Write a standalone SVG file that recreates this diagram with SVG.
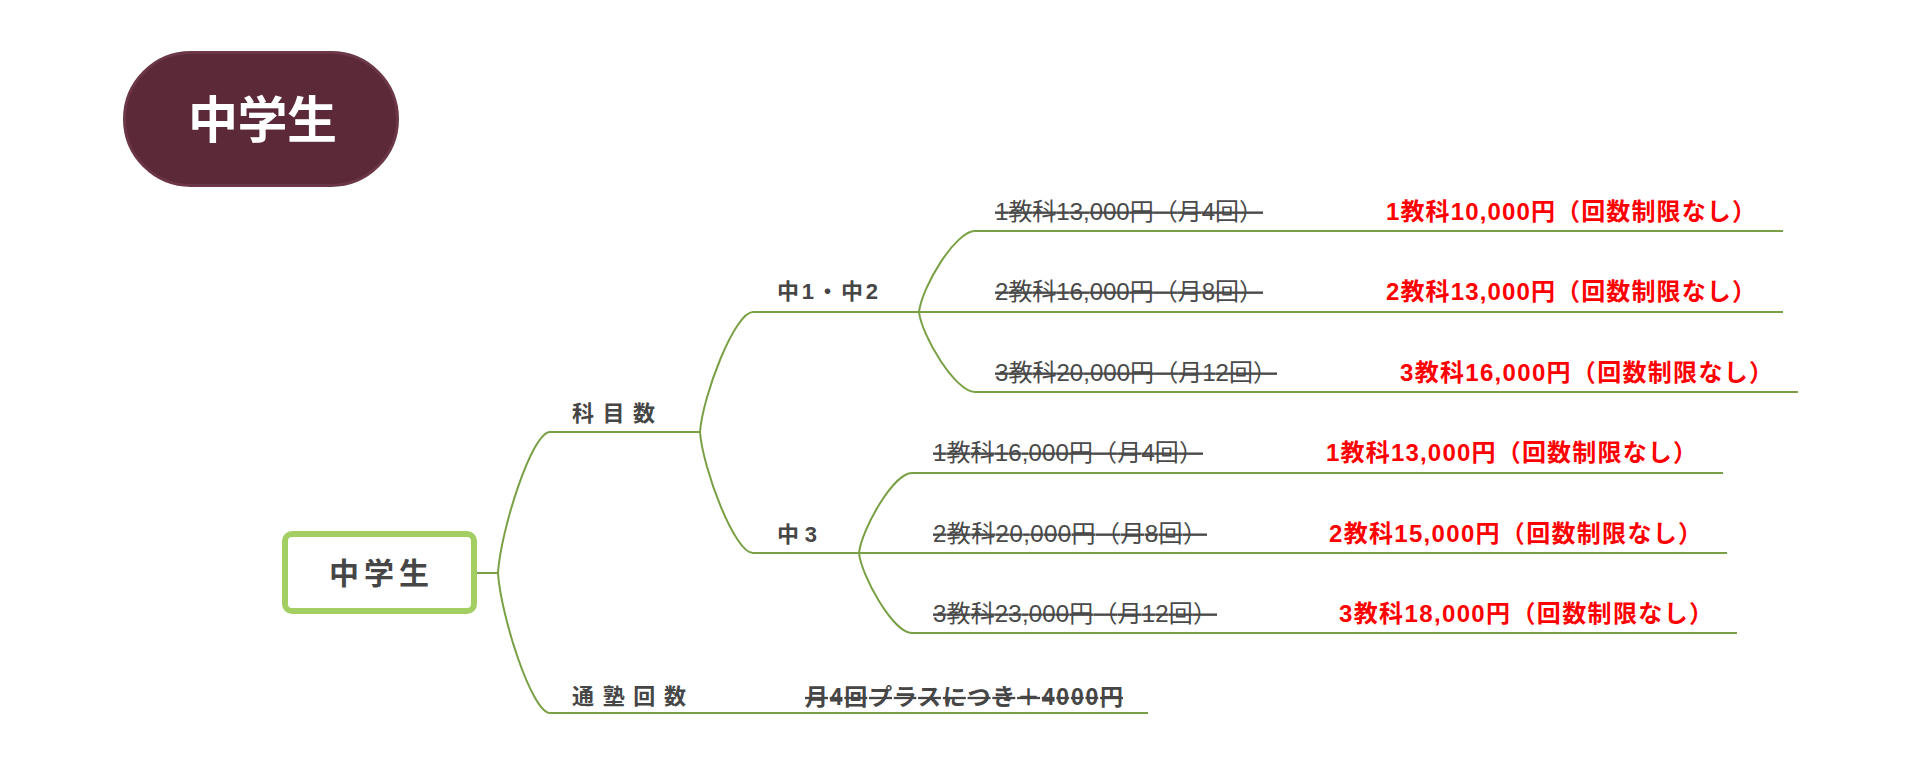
<svg xmlns="http://www.w3.org/2000/svg" width="1920" height="766" viewBox="0 0 1920 766">
<style>
.lbl{font-family:"Liberation Sans","Noto Sans CJK JP",sans-serif;font-weight:bold;fill:#464646;}
.old{font-family:"Liberation Sans","Noto Sans CJK JP",sans-serif;font-size:24px;fill:#4a4a4a;text-decoration:line-through;}
.new{font-family:"Liberation Sans","Noto Sans CJK JP",sans-serif;font-size:24px;font-weight:bold;fill:#ff0000;}
.conn{fill:none;stroke:#79a044;stroke-width:2;}
</style>
<rect width="1920" height="766" fill="#ffffff"/>
<g id="title">
<rect x="124.5" y="52.5" width="273" height="133" rx="66.5" fill="#5c2939" stroke="#6b3747" stroke-width="3"/>
<text x="188" y="138" font-family="'Liberation Sans','Noto Sans CJK JP',sans-serif" font-size="50" font-weight="bold" fill="#ffffff" textLength="149" lengthAdjust="spacing">中学生</text>
</g>
<g id="connectors">
<path class="conn" d="M477,573 H498"/>
<path class="conn" d="M498,573 C500.6,530.7 531.8,432 550,432 H700"/>
<path class="conn" d="M498,573 C500.6,615 531.8,713 550,713 H1148"/>
<path class="conn" d="M700,432 C702.7,396 734.5,312 753,312 H919"/>
<path class="conn" d="M700,432 C702.7,468.3 734.5,553 753,553 H859"/>
<path class="conn" d="M919,312 C921.8,287 955.4,231 975,231 H1783"/>
<path class="conn" d="M919,312 H1783"/>
<path class="conn" d="M919,312 C921.8,336 955.4,392 975,392 H1798"/>
<path class="conn" d="M859,553 C861.7,529 893.5,473 912,473 H1723"/>
<path class="conn" d="M859,553 H1727"/>
<path class="conn" d="M859,553 C861.7,577 893.5,633 912,633 H1737"/>
</g>
<g id="root">
<rect x="285" y="534" width="189" height="77" rx="7" fill="#ffffff" stroke="#a3cf62" stroke-width="6"/>
<text class="lbl" x="329" y="584" font-size="30" textLength="100" lengthAdjust="spacing">中学生</text>
</g>
<g id="subjects">
<text class="lbl" x="572" y="421" font-size="22" textLength="83" lengthAdjust="spacing">科目数</text>
</g>
<g id="attendance">
<text class="lbl" x="572" y="704" font-size="22" textLength="114" lengthAdjust="spacing">通塾回数</text>
</g>
<g id="attendance-price">
<text class="lbl" x="805" y="705" font-size="23" fill="#4d4d4d" style="text-decoration:line-through" textLength="318" lengthAdjust="spacing">月4回プラスにつき＋4000円</text>
</g>
<g id="grade12">
<text class="lbl" x="777" y="299" font-size="22" textLength="101" lengthAdjust="spacing">中1・中2</text>
</g>
<g id="grade12-1">
<text class="old" x="995" y="220" textLength="268" lengthAdjust="spacing">1教科13,000円（月4回）</text>
<text class="new" x="1386" y="220" textLength="370" lengthAdjust="spacing">1教科10,000円（回数制限なし）</text>
</g>
<g id="grade12-2">
<text class="old" x="995" y="300" textLength="268" lengthAdjust="spacing">2教科16,000円（月8回）</text>
<text class="new" x="1386" y="300" textLength="370" lengthAdjust="spacing">2教科13,000円（回数制限なし）</text>
</g>
<g id="grade12-3">
<text class="old" x="995" y="381" textLength="282" lengthAdjust="spacing">3教科20,000円（月12回）</text>
<text class="new" x="1400" y="381" textLength="373" lengthAdjust="spacing">3教科16,000円（回数制限なし）</text>
</g>
<g id="grade3">
<text class="lbl" x="777" y="542" font-size="22" textLength="40" lengthAdjust="spacing">中3</text>
</g>
<g id="grade3-1">
<text class="old" x="933" y="461" textLength="270" lengthAdjust="spacing">1教科16,000円（月4回）</text>
<text class="new" x="1326" y="461" textLength="371" lengthAdjust="spacing">1教科13,000円（回数制限なし）</text>
</g>
<g id="grade3-2">
<text class="old" x="933" y="542" textLength="274" lengthAdjust="spacing">2教科20,000円（月8回）</text>
<text class="new" x="1329" y="542" textLength="373" lengthAdjust="spacing">2教科15,000円（回数制限なし）</text>
</g>
<g id="grade3-3">
<text class="old" x="933" y="622" textLength="284" lengthAdjust="spacing">3教科23,000円（月12回）</text>
<text class="new" x="1339" y="622" textLength="374" lengthAdjust="spacing">3教科18,000円（回数制限なし）</text>
</g>
</svg>
